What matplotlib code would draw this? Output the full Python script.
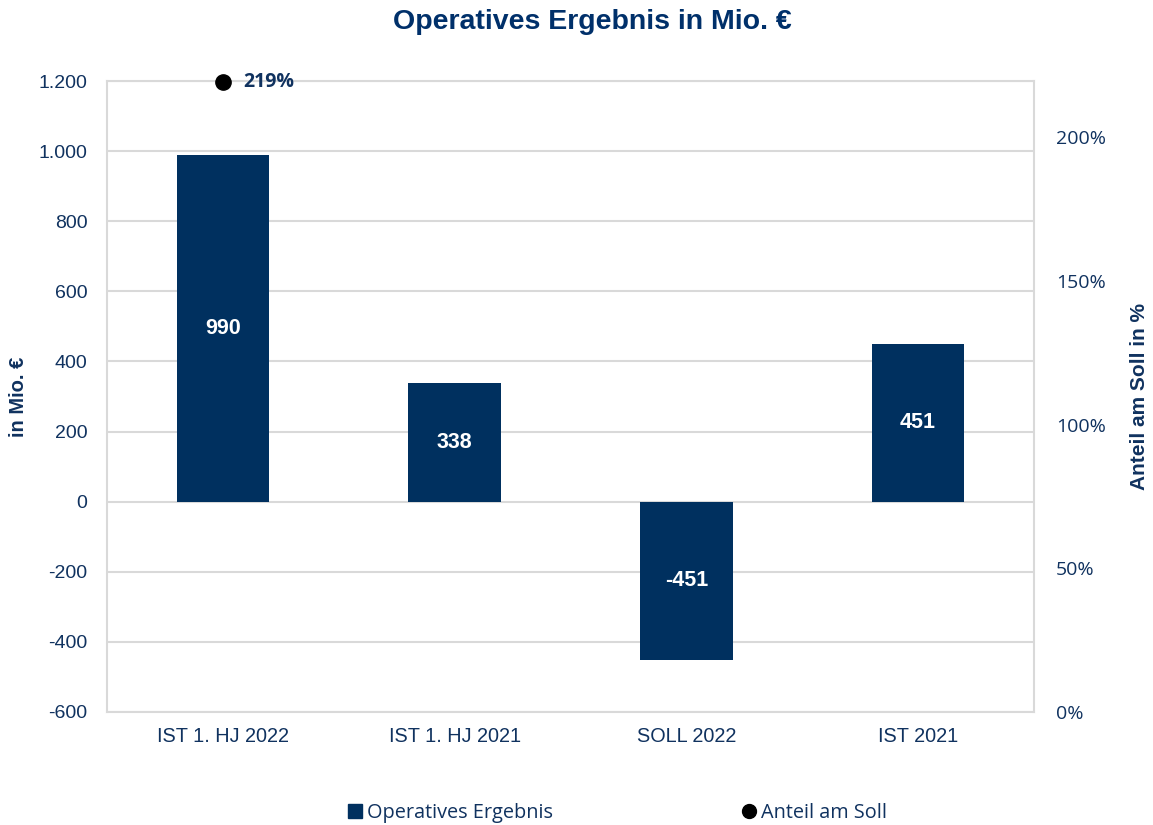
import matplotlib
matplotlib.use("Agg")
import matplotlib.pyplot as plt
import numpy as np
from matplotlib.lines import Line2D

categories = ["IST 1. HJ 2022", "IST 1. HJ 2021", "SOLL 2022", "IST 2021"]
ergebnis = [990, 338, -451, 451]
anteil = [219, np.nan, np.nan, np.nan]
left_ticks = [-600, -400, -200, 0, 200, 400, 600, 800, 1000, 1200]
left_labels = ["-600", "-400", "-200", "0", "200", "400", "600", "800", "1.000", "1.200"]
right_ticks = [0, 50, 100, 150, 200]
right_labels = ["0%", "50%", "100%", "150%", "200%"]

BAR = "#00305F"
TXT = "#10325F"
TITLE = "#00306A"
GRID = "#D9D9D9"

fig = plt.figure(figsize=(11.53, 8.25), dpi=100)
ax = fig.add_axes([107/1153, 1-712/825, (1034-107)/1153, (712-81)/825])
x = np.arange(len(categories))
ax.bar(x, ergebnis, width=0.4, color=BAR, zorder=3)
ax.set_xlim(-0.5, len(categories)-0.5)
ax.set_ylim(-600, 1200)
ax.set_yticks(left_ticks)
ax.set_yticklabels(left_labels)
ax.set_xticks(x)
ax.set_xticklabels(categories)
ax.grid(axis="y", color=GRID, linewidth=1.5, zorder=0)
for s in ax.spines.values():
    s.set_color(GRID)
    s.set_linewidth(1.5)
ax.tick_params(axis="y", length=0, pad=14, labelsize=14, labelcolor=TXT, labelfontfamily="Liberation Sans")
ax.tick_params(axis="x", length=0, pad=11, labelsize=14.3, labelcolor=TXT, labelfontfamily="Liberation Sans")
ax.set_ylabel("in Mio. €", fontsize=14.5, fontweight="bold", color=TXT, family="Liberation Sans", labelpad=8)

for xi, v in zip(x, ergebnis):
    ax.text(xi, v/2, f"{v}", ha="center", va="center", color="white",
            fontsize=15.5, fontweight="bold", family="Liberation Sans", zorder=4)

ax2 = ax.twinx()
ax2.set_ylim(0, 219.5)
ax2.plot(x, anteil, "o", color="black", markersize=11, zorder=5, clip_on=False)
for xi, p in zip(x, anteil):
    if not np.isnan(p):
        ax2.text(xi + 0.09, p, f"{p:.0f}%", ha="left", va="center", color=TXT,
                 fontsize=14, fontweight="bold", family="Open Sans")
ax2.set_yticks(right_ticks)
ax2.set_yticklabels(right_labels)
ax2.tick_params(axis="y", length=0, pad=16, labelsize=14, labelcolor=TXT, labelfontfamily="Open Sans")
for s in ax2.spines.values():
    s.set_visible(False)
ax2.set_ylabel("Anteil am Soll in %", fontsize=15, fontweight="bold", color=TXT,
               family="Liberation Sans", rotation=90, labelpad=17)

fig.text(592/1153, 1-22/825, "Operatives Ergebnis in Mio. €", ha="center", va="center",
         fontsize=20.5, fontweight="bold", color=TITLE, family="Liberation Sans")

handles = [Line2D([0], [0], marker="s", color="none", markerfacecolor=BAR, markeredgecolor=BAR, markersize=10),
           Line2D([0], [0], marker="o", color="none", markerfacecolor="black", markeredgecolor="black", markersize=10)]
leg = fig.legend(handles, ["Operatives Ergebnis", "Anteil am Soll"], loc="center",
                 bbox_to_anchor=(617/1153, 1-813/825), ncol=2, frameon=False,
                 columnspacing=9.5, handlelength=0.8, handletextpad=0.2,
                 prop={"family": "Open Sans", "size": 14.3})
for t in leg.get_texts():
    t.set_color(TXT)

fig.savefig("out.png", dpi=100)
